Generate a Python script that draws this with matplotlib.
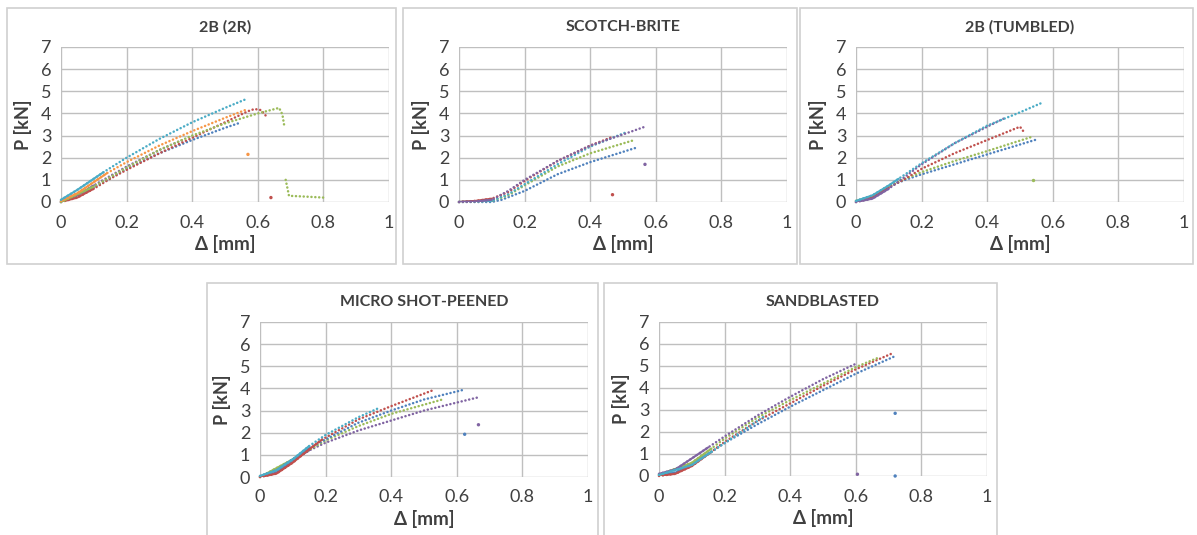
import matplotlib
matplotlib.use("Agg")
import matplotlib.pyplot as plt
from matplotlib.patches import Rectangle

plt.rcParams['font.family'] = ['Lato', 'DejaVu Sans']

W, H = 1197, 535

# excel 2010 palette
BLUE, RED, GREEN, PURPLE, CYAN, ORANGE = "#4F81BD", "#C0504D", "#9BBB59", "#8064A2", "#4BACC6", "#F79646"

X_TICKS = [0, 0.2, 0.4, 0.6, 0.8, 1]
X_TICK_LABELS = ["0", "0.2", "0.4", "0.6", "0.8", "1"]
Y_TICKS = [0, 1, 2, 3, 4, 5, 6, 7]

# ---------------- data: (x [mm], P [kN]) ----------------
# 2B (2R)
r2_cyan_x = [0, 0.05, 0.10, 0.13, 0.20, 0.30, 0.40, 0.50, 0.565]
r2_cyan_y = [0.10, 0.55, 1.05, 1.35, 2.00, 2.85, 3.60, 4.25, 4.65]
r2_orange_x = [0, 0.05, 0.10, 0.14, 0.20, 0.30, 0.40, 0.50, 0.57]
r2_orange_y = [0.05, 0.40, 0.90, 1.30, 1.80, 2.55, 3.20, 3.80, 4.20]
r2_red_x = [0, 0.05, 0.10, 0.15, 0.20, 0.30, 0.40, 0.50, 0.57, 0.59, 0.61, 0.63]
r2_red_y = [0, 0.20, 0.60, 1.05, 1.45, 2.20, 2.90, 3.60, 4.10, 4.20, 4.15, 3.80]
r2_purple_x = [0, 0.05, 0.10, 0.20, 0.30, 0.37]
r2_purple_y = [0, 0.30, 0.75, 1.60, 2.35, 2.80]
r2_blue_x = [0, 0.10, 0.20, 0.30, 0.40, 0.50, 0.55]
r2_blue_y = [0, 0.65, 1.50, 2.20, 2.80, 3.35, 3.60]
r2_green_x = [0, 0.10, 0.20, 0.30, 0.40, 0.50, 0.60, 0.665, 0.675, 0.68]
r2_green_y = [0, 0.70, 1.55, 2.35, 3.00, 3.55, 4.00, 4.25, 3.95, 3.50]
r2_green_tail_x = [0.685, 0.69, 0.695, 0.75, 0.80]
r2_green_tail_y = [1.00, 0.65, 0.28, 0.24, 0.20]
r2_out_x = [0.57, 0.64]
r2_out_y = [2.15, 0.20]
r2_out_c = [ORANGE, RED]

# SCOTCH-BRITE
sb_purple_x = [0, 0.05, 0.10, 0.15, 0.20, 0.30, 0.40, 0.50, 0.567]
sb_purple_y = [0, 0.02, 0.10, 0.50, 1.00, 1.85, 2.55, 3.05, 3.40]
sb_red_x = [0, 0.05, 0.10, 0.15, 0.20, 0.30, 0.40, 0.47]
sb_red_y = [0, 0.05, 0.15, 0.45, 0.95, 1.85, 2.55, 2.95]
sb_cyan_x = [0, 0.10, 0.15, 0.20, 0.30, 0.40, 0.51]
sb_cyan_y = [0, 0.05, 0.35, 0.80, 1.70, 2.50, 3.15]
sb_green_x = [0, 0.10, 0.15, 0.20, 0.30, 0.40, 0.535]
sb_green_y = [0, 0.05, 0.30, 0.75, 1.60, 2.20, 2.80]
sb_blue_x = [0, 0.10, 0.13, 0.20, 0.30, 0.40, 0.54]
sb_blue_y = [0, 0.0, 0.10, 0.50, 1.25, 1.80, 2.45]
sb_out_x = [0.567, 0.468]
sb_out_y = [1.70, 0.33]
sb_out_c = [PURPLE, RED]

# 2B (TUMBLED)
tb_cyan_x = [0, 0.05, 0.10, 0.13, 0.20, 0.30, 0.40, 0.50, 0.567]
tb_cyan_y = [0.05, 0.30, 0.75, 1.05, 1.75, 2.65, 3.45, 4.05, 4.48]
tb_purple_x = [0, 0.05, 0.10, 0.20, 0.30, 0.40, 0.455]
tb_purple_y = [0, 0.15, 0.60, 1.70, 2.65, 3.40, 3.80]
tb_red_x = [0, 0.05, 0.10, 0.15, 0.20, 0.30, 0.40, 0.50, 0.51]
tb_red_y = [0, 0.20, 0.65, 1.05, 1.50, 2.20, 2.80, 3.40, 3.20]
tb_green_x = [0, 0.05, 0.10, 0.15, 0.20, 0.30, 0.40, 0.542]
tb_green_y = [0.05, 0.25, 0.70, 1.05, 1.35, 1.85, 2.30, 2.97]
tb_blue_x = [0, 0.05, 0.10, 0.15, 0.20, 0.30, 0.40, 0.55]
tb_blue_y = [0, 0.25, 0.70, 1.00, 1.25, 1.70, 2.15, 2.82]
tb_out_x = [0.54]
tb_out_y = [0.98]
tb_out_c = [GREEN]

# MICRO SHOT-PEENED
sp_red_x = [0, 0.05, 0.10, 0.15, 0.19, 0.30, 0.40, 0.524]
sp_red_y = [0, 0.15, 0.65, 1.25, 1.70, 2.60, 3.20, 3.90]
sp_cyan_x = [0, 0.05, 0.10, 0.15, 0.20, 0.30, 0.36]
sp_cyan_y = [0.05, 0.30, 0.80, 1.40, 1.90, 2.70, 3.10]
sp_blue_x = [0, 0.05, 0.10, 0.15, 0.20, 0.30, 0.40, 0.50, 0.624]
sp_blue_y = [0.03, 0.30, 0.80, 1.30, 1.70, 2.45, 3.00, 3.50, 3.95]
sp_green_x = [0, 0.10, 0.20, 0.30, 0.40, 0.556]
sp_green_y = [0, 0.80, 1.65, 2.30, 2.85, 3.50]
sp_purple_x = [0, 0.05, 0.10, 0.15, 0.20, 0.30, 0.40, 0.50, 0.666]
sp_purple_y = [0, 0.20, 0.75, 1.20, 1.55, 2.10, 2.55, 3.00, 3.60]
sp_out_x = [0.624, 0.666]
sp_out_y = [1.93, 2.36]
sp_out_c = [BLUE, PURPLE]

# SANDBLASTED
sd_red_x = [0, 0.05, 0.10, 0.16, 0.20, 0.30, 0.40, 0.50, 0.60, 0.715]
sd_red_y = [0, 0.10, 0.45, 1.10, 1.55, 2.50, 3.30, 4.10, 4.85, 5.60]
sd_blue_x = [0, 0.05, 0.10, 0.16, 0.20, 0.30, 0.40, 0.50, 0.60, 0.72]
sd_blue_y = [0.05, 0.15, 0.55, 1.10, 1.50, 2.35, 3.15, 3.90, 4.65, 5.45]
sd_purple_x = [0, 0.05, 0.10, 0.15, 0.20, 0.30, 0.40, 0.50, 0.60]
sd_purple_y = [0.10, 0.30, 0.80, 1.30, 1.80, 2.75, 3.60, 4.40, 5.10]
sd_green_x = [0, 0.10, 0.16, 0.20, 0.30, 0.40, 0.50, 0.60, 0.664]
sd_green_y = [0.05, 0.60, 1.25, 1.70, 2.65, 3.45, 4.20, 4.95, 5.35]
sd_cyan_x = [0, 0.10, 0.16, 0.20, 0.32]
sd_cyan_y = [0.05, 0.50, 1.10, 1.50, 2.70]
sd_out_x = [0.72, 0.72, 0.605]
sd_out_y = [2.85, 0.0, 0.08]
sd_out_c = [BLUE, BLUE, PURPLE]

PANELS = [
    dict(title="2B (2R)", axes=(61, 47, 389, 202), box=(7, 8, 396, 264), dense=0.14,
         series=[(r2_blue_x, r2_blue_y, BLUE), (r2_purple_x, r2_purple_y, PURPLE),
                 (r2_red_x, r2_red_y, RED), (r2_green_x, r2_green_y, GREEN),
                 (r2_green_tail_x, r2_green_tail_y, GREEN),
                 (r2_orange_x, r2_orange_y, ORANGE), (r2_cyan_x, r2_cyan_y, CYAN)],
         out=(r2_out_x, r2_out_y, r2_out_c)),
    dict(title="SCOTCH-BRITE", axes=(459, 47, 787, 202), box=(403, 8, 797, 264), dense=0.12,
         series=[(sb_blue_x, sb_blue_y, BLUE), (sb_green_x, sb_green_y, GREEN),
                 (sb_cyan_x, sb_cyan_y, CYAN), (sb_red_x, sb_red_y, RED),
                 (sb_purple_x, sb_purple_y, PURPLE)],
         out=(sb_out_x, sb_out_y, sb_out_c)),
    dict(title="2B (TUMBLED)", axes=(856, 47, 1184, 202), box=(800, 8, 1193, 264), dense=0.13,
         series=[(tb_blue_x, tb_blue_y, BLUE), (tb_green_x, tb_green_y, GREEN),
                 (tb_red_x, tb_red_y, RED), (tb_purple_x, tb_purple_y, PURPLE),
                 (tb_cyan_x, tb_cyan_y, CYAN)],
         out=(tb_out_x, tb_out_y, tb_out_c)),
    dict(title="MICRO SHOT-PEENED", axes=(260, 322, 588, 477), box=(207, 283, 598, 540), dense=0.19,
         series=[(sp_purple_x, sp_purple_y, PURPLE), (sp_green_x, sp_green_y, GREEN),
                 (sp_blue_x, sp_blue_y, BLUE), (sp_red_x, sp_red_y, RED),
                 (sp_cyan_x, sp_cyan_y, CYAN)],
         out=(sp_out_x, sp_out_y, sp_out_c)),
    dict(title="SANDBLASTED", axes=(659, 322, 987, 476), box=(604, 283, 997, 540), dense=0.16,
         series=[(sd_blue_x, sd_blue_y, BLUE), (sd_red_x, sd_red_y, RED),
                 (sd_green_x, sd_green_y, GREEN), (sd_purple_x, sd_purple_y, PURPLE),
                 (sd_cyan_x, sd_cyan_y, CYAN)],
         out=(sd_out_x, sd_out_y, sd_out_c)),
]

fig = plt.figure(figsize=(W / 100, H / 100), dpi=100)

for p in PANELS:
    bx0, by0, bx1, by1 = p["box"]
    fig.add_artist(Rectangle((bx0 / W, 1 - by1 / H), (bx1 - bx0) / W, (by1 - by0) / H,
                             transform=fig.transFigure, fill=False, ec="#D0D0D0", lw=1.2))

    x0, y0, x1, y1 = p["axes"]
    ax = fig.add_axes([x0 / W, 1 - y1 / H, (x1 - x0) / W, (y1 - y0) / H])
    ax.set_xlim(0, 1)
    ax.set_ylim(0, 7)
    ax.set_xticks(X_TICKS)
    ax.set_xticklabels(X_TICK_LABELS)
    ax.set_yticks(Y_TICKS)
    ax.grid(True, color="#BFBFBF", lw=1.0)
    ax.set_axisbelow(True)
    for s in ax.spines.values():
        s.set_visible(False)
    ax.tick_params(length=0, labelsize=13, colors="#404040", pad=7)
    ax.tick_params(axis="x", pad=9)

    # excel-style dotted scatter: round dots along the read curve
    for xs, ys, c in p["series"]:
        ax.plot(xs, ys, color=c, lw=1.8, linestyle=(0, (0.05, 1.5)),
                dash_capstyle="round", clip_on=False)
        dx = [x for x in xs if x <= p["dense"]]
        if len(dx) > 1:
            ax.plot(dx, ys[:len(dx)], color=c, lw=1.5, solid_capstyle="round")
    ox, oy, oc = p["out"]
    ax.scatter(ox, oy, c=oc, s=6, zorder=3, clip_on=False, linewidths=0)

    ax.set_xlabel("Δ [mm]", fontsize=13.5, fontweight="bold", color="#404040", labelpad=3)
    ax.set_ylabel("P [kN]", fontsize=13, fontweight="bold", color="#404040", labelpad=6)
    fig.text((x0 + x1) / 2 / W, 1 - (by0 + 19) / H, p["title"], ha="center", va="center",
             fontsize=11.5, fontweight="bold", color="#404040")

fig.savefig("out.png", dpi=100)
